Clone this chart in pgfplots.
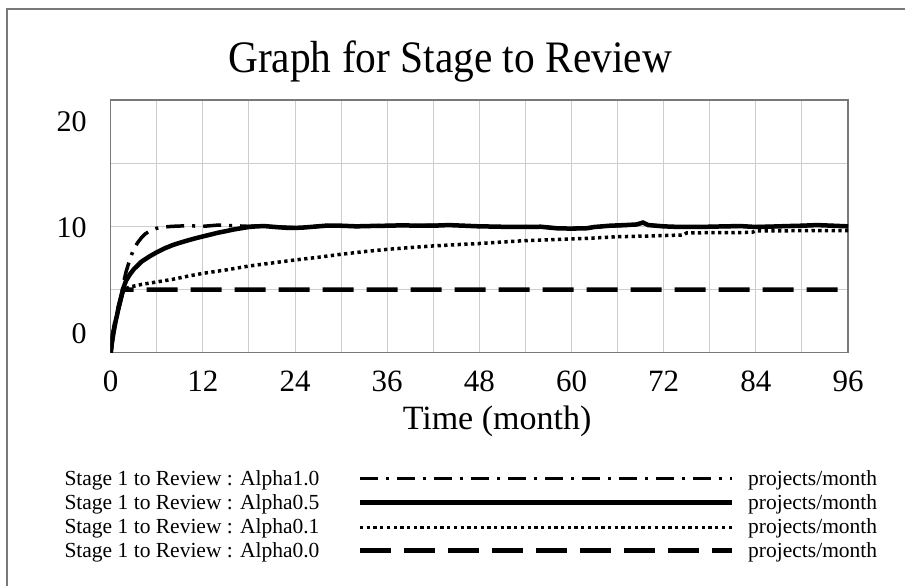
\documentclass[border=0pt]{standalone}
\usepackage{pgfplots}
\pgfplotsset{compat=1.18}
\usepackage{fontspec}
\setmainfont{Liberation Serif}
\newfontfamily\titlefont[FakeStretch=0.92]{Liberation Serif}
\definecolor{gridc}{RGB}{205,205,205}
\definecolor{framec}{RGB}{120,120,120}
\begin{document}
\begin{tikzpicture}[x=1pt,y=1pt]
\useasboundingbox (0,0) rectangle (905,586);
\draw[framec, line width=1.5pt] (7,0) -- (7,577) -- (906,577);
\node[anchor=base west, inner sep=0pt] at (228,513.5) {\titlefont\fontsize{45}{54}\selectfont Graph for Stage to Review};
\begin{axis}[
  at={(110.7pt,233.3pt)}, anchor=south west,
  scale only axis, width=737.3pt, height=252.7pt,
  xmin=0, xmax=96, ymin=0, ymax=20,
  xtick={0,12,...,96},
  minor xtick={6,18,...,90},
  ytick={5,10,15}, yticklabels={},
  extra y ticks={1.48,9.9,18.3},
  extra y tick labels={0,10,20},
  extra y tick style={grid=none, major tick length=0pt},
  xmajorgrids, xminorgrids, ymajorgrids,
  grid style={gridc, line width=1pt},
  minor grid style={gridc, line width=1pt},
  major tick length=0pt, minor tick length=0pt,
  axis line style={framec, line width=1.2pt},
  /pgf/number format/assume math mode=true,
  xticklabel style={anchor=base, yshift=-39pt, inner sep=0pt, font=\fontsize{31}{36}\selectfont},
  yticklabel style={anchor=east, xshift=-24pt, inner sep=0pt, font=\fontsize{30}{36}\selectfont},
  xlabel={Time (month)},
  xlabel style={at={(axis description cs:0.524,0)}, anchor=base, yshift=-77.3pt, inner sep=0pt, font=\fontsize{34}{40}\selectfont},
]
% Alpha0.0 (dashed)
\addplot[black, line width=4.5pt, dash pattern=on 31pt off 13pt] coordinates {
(0,0) (0.15,0.8) (0.35,1.6) (0.6,2.4) (0.8,2.9) (1.0,3.5) (1.2,4.0) (1.45,4.6) (1.6,5.0) (96,5.0)};
% Alpha0.1 (dotted)
\addplot[black, line width=3.5pt, dash pattern=on 3.3pt off 3.4pt] coordinates {
(0,0) (0.15,0.8) (0.35,1.6) (0.6,2.4) (0.8,2.9) (1.0,3.5) (1.2,4.0) (1.45,4.6) (1.7,5.0) (2.5,5.2) (4,5.4) (6,5.6) (8,5.8) (10,6.05) (12,6.28) (15,6.55) (18,6.86) (21,7.1) (24,7.34) (27,7.55) (30,7.79) (33,8.0) (36,8.18) (39,8.32) (42,8.45) (45,8.55) (48,8.64) (51,8.76) (54,8.87) (57,8.93) (60,9.0) (63,9.08) (66,9.18) (69,9.22) (72,9.27) (74.6,9.32) (75,9.48) (78,9.5) (81,9.5) (83.5,9.52) (84,9.65) (88,9.65) (92,9.66) (96,9.66)};
% Alpha0.5 (solid)
\addplot[black, line width=4.5pt] coordinates {
(0,0) (0.15,0.8) (0.35,1.6) (0.6,2.4) (0.8,2.9) (1.0,3.5) (1.2,4.0) (1.45,4.6) (1.7,5.2) (2.0,5.7) (2.5,6.2) (3,6.6) (4,7.2) (5,7.6) (6,7.95) (7,8.25) (8,8.5) (9,8.7) (10,8.88) (11,9.05) (12,9.2) (13,9.35) (14,9.5) (15,9.62) (16,9.75) (17,9.85) (18,9.95) (19,10.0) (20,10.02) (21,9.97) (22,9.92) (23,9.88) (24,9.88) (25,9.9) (26,9.95) (27,10.0) (28,10.05) (30,10.05) (32,10.0) (34,10.03) (36,10.05) (38,10.08) (40,10.05) (42,10.05) (44,10.1) (46,10.05) (48,10.0) (50,9.98) (52,9.95) (54,9.95) (56,9.97) (58,9.85) (60,9.82) (62,9.85) (63,9.95) (65,10.05) (67,10.1) (68.5,10.15) (69.3,10.3) (70,10.1) (72,10.0) (74,9.95) (76,9.95) (78,9.97) (80,10.0) (82,10.02) (84,9.95) (86,9.98) (88,10.02) (90,10.05) (92,10.1) (94,10.05) (96,10.0)};
% Alpha1.0 (dash-dot)
\addplot[black, line width=3.5pt, dash pattern=on 18pt off 8pt on 3pt off 8pt] coordinates {
(0,0) (0.15,0.8) (0.35,1.6) (0.6,2.4) (0.8,2.9) (1.0,3.5) (1.2,4.0) (1.45,4.6) (1.7,5.6) (2.0,6.4) (2.5,7.4) (3.0,8.2) (3.5,8.7) (4.0,9.1) (4.5,9.4) (5,9.6) (6,9.85) (7,9.95) (8,10.0) (10,10.05) (12,10.0) (14,10.1) (16,10.05) (18,10.0) (20,10.05) (22,9.95) (24,9.9) (26,9.97) (28,10.05) (30,10.03) (32,10.0) (34,10.05) (36,10.05) (38,10.08) (40,10.05) (42,10.08) (44,10.1) (46,10.05) (48,10.0) (50,9.98) (52,9.95) (54,9.97) (56,9.95) (58,9.87) (60,9.85) (62,9.87) (64,9.97) (66,10.05) (68,10.1) (69.3,10.25) (70,10.1) (72,10.0) (74,9.97) (76,9.95) (78,9.98) (80,10.0) (82,10.0) (84,9.97) (86,9.98) (88,10.03) (90,10.05) (92,10.08) (94,10.05) (96,10.0)};
\end{axis}
% legend
\begin{scope}[font=\fontsize{21.5}{25}\selectfont]
\node[anchor=base west, inner sep=0pt] at (64.3,100) {Stage 1 to Review : Alpha1.0};
\node[anchor=base west, inner sep=0pt] at (64.3,76) {Stage 1 to Review : Alpha0.5};
\node[anchor=base west, inner sep=0pt] at (64.3,52) {Stage 1 to Review : Alpha0.1};
\node[anchor=base west, inner sep=0pt] at (64.3,28) {Stage 1 to Review : Alpha0.0};
\foreach \yy in {100,76,52,28} {\node[anchor=base west, inner sep=0pt] at (748,\yy) {projects/month};}
\end{scope}
\draw[black, line width=3.2pt, dash pattern=on 18pt off 8pt on 3pt off 8pt] (360,107.7) -- (732,107.7);
\draw[black, line width=4.5pt] (360,83.7) -- (732,83.7);
\draw[black, line width=3.5pt, dash pattern=on 3.3pt off 3.4pt] (360,58.7) -- (732,58.7);
\draw[black, line width=4.5pt, dash pattern=on 31pt off 13pt] (360,35.3) -- (732,35.3);
\end{tikzpicture}
\end{document}
